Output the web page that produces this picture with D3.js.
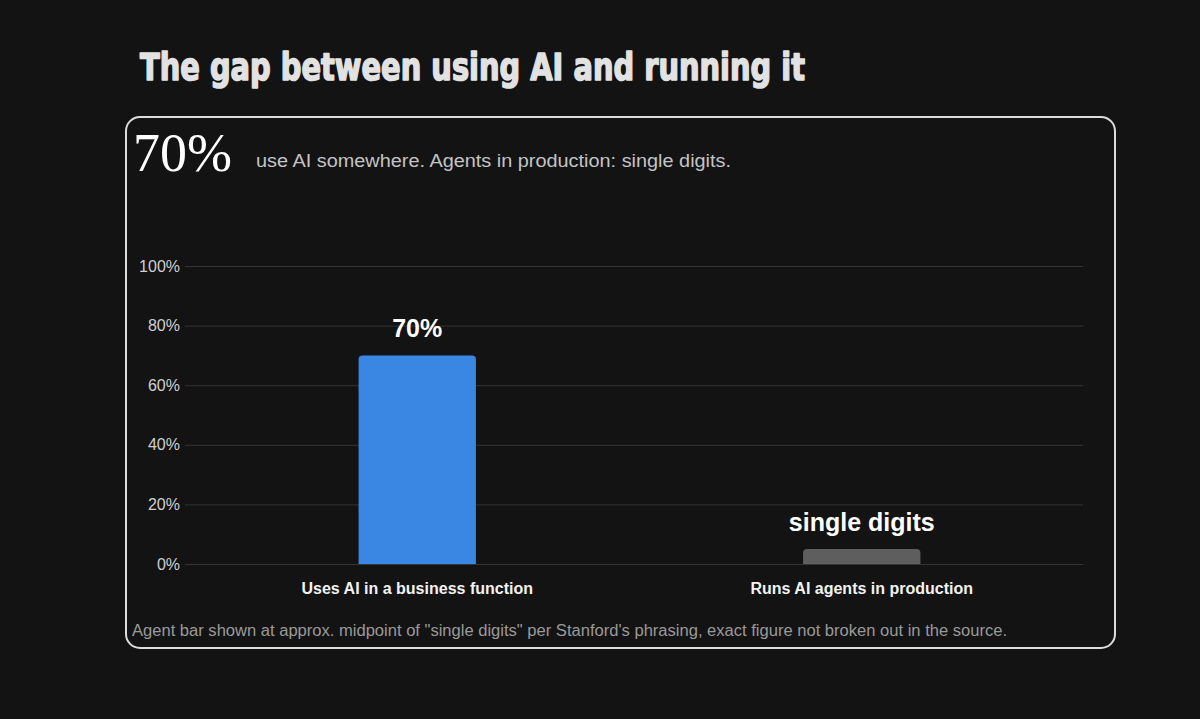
<!DOCTYPE html>
<html lang="en">
<head>
  <meta charset="UTF-8">
  <title>The gap between using AI and running it</title>
  <script src="https://d3js.org/d3.v7.min.js"></script>
  <style>
    html, body { margin: 0; padding: 0; background: #131313; }
    svg { display: block; }
  </style>
</head>
<body>
  <svg width="1200" height="719"></svg>
  <script>
    // data
    const categories = ["Uses AI in a business function", "Runs AI agents in production"];
    const values = [70, 5];
    const valueLabels = ["70%", "single digits"];
    const barColors = ["#3a87e3", "#5e5e5e"];
    const yTicks = [0, 20, 40, 60, 80, 100];

    const svg = d3.select("svg");

    // title
    svg.append("text")
       .attr("x", 140)
       .attr("y", 80)
       .attr("textLength", 665)
       .attr("lengthAdjust", "spacingAndGlyphs")
       .style("font", "bold 37px 'DejaVu Sans'")
       .style("fill", "#e2e2e2")
       .style("stroke", "#e2e2e2")
       .style("stroke-width", 1.6)
       .style("stroke-linejoin", "round")
       .text("The gap between using AI and running it");

    // card
    svg.append("rect")
       .attr("x", 126).attr("y", 117)
       .attr("width", 989).attr("height", 531)
       .attr("rx", 14)
       .style("fill", "#131313")
       .style("stroke", "#dcdcdc")
       .style("stroke-width", 2);

    svg.append("text")
       .attr("x", 133).attr("y", 171)
       .attr("textLength", 99)
       .style("font", "54px 'Liberation Serif'")
       .style("fill", "#ffffff")
       .text("70%");

    svg.append("text")
       .attr("x", 256).attr("y", 167)
       .attr("textLength", 475)
       .attr("lengthAdjust", "spacingAndGlyphs")
       .style("font", "18px 'Liberation Sans'")
       .style("fill", "#c4c4c4")
       .text("use AI somewhere. Agents in production: single digits.");

    const y = d3.scaleLinear().domain([0, 100]).range([564, 266]);
    const x = d3.scaleBand().domain(categories).range([195, 1084]).padding(0);
    const barW = x.bandwidth() * 0.264;

    // grid + y labels
    const yAxis = svg.append("g")
       .attr("transform", "translate(185,0)")
       .call(d3.axisLeft(y).tickValues(yTicks).tickFormat(d => d + "%").tickSize(-898).tickPadding(5));
    yAxis.select(".domain").remove();
    yAxis.selectAll(".tick line").style("stroke", "#343434").style("stroke-width", 1);
    yAxis.selectAll(".tick text")
         .style("font", "16px 'Liberation Sans'")
         .style("fill", "#cfcfcf");

    // bars with rounded tops
    const r = 4;
    svg.selectAll(".bar")
       .data(values)
       .enter().append("path")
       .attr("class", "bar")
       .attr("d", (d, i) => {
         const cx = x(categories[i]) + x.bandwidth() / 2;
         const x0 = cx - barW / 2, x1 = cx + barW / 2;
         const y0 = y(0), y1 = y(d);
         return `M${x0},${y0}V${y1 + r}Q${x0},${y1} ${x0 + r},${y1}H${x1 - r}Q${x1},${y1} ${x1},${y1 + r}V${y0}Z`;
       })
       .style("fill", (d, i) => barColors[i]);

    // value labels
    svg.selectAll(".val")
       .data(values)
       .enter().append("text")
       .attr("class", "val")
       .attr("x", (d, i) => x(categories[i]) + x.bandwidth() / 2)
       .attr("y", d => y(d) - 18)
       .attr("text-anchor", "middle")
       .style("font", "bold 25px 'Liberation Sans'")
       .style("fill", "#ffffff")
       .text((d, i) => valueLabels[i]);

    // category labels
    svg.selectAll(".cat")
       .data(categories)
       .enter().append("text")
       .attr("class", "cat")
       .attr("x", d => x(d) + x.bandwidth() / 2)
       .attr("y", 594)
       .attr("text-anchor", "middle")
       .style("font", "bold 16px 'Liberation Sans'")
       .style("fill", "#f2f2f2")
       .text(d => d);

    svg.append("text")
       .attr("x", 132).attr("y", 636)
       .attr("textLength", 875)
       .attr("lengthAdjust", "spacingAndGlyphs")
       .style("font", "16px 'Liberation Sans'")
       .style("fill", "#9a9a9a")
       .text("Agent bar shown at approx. midpoint of \"single digits\" per Stanford's phrasing, exact figure not broken out in the source.");
  </script>
</body>
</html>
